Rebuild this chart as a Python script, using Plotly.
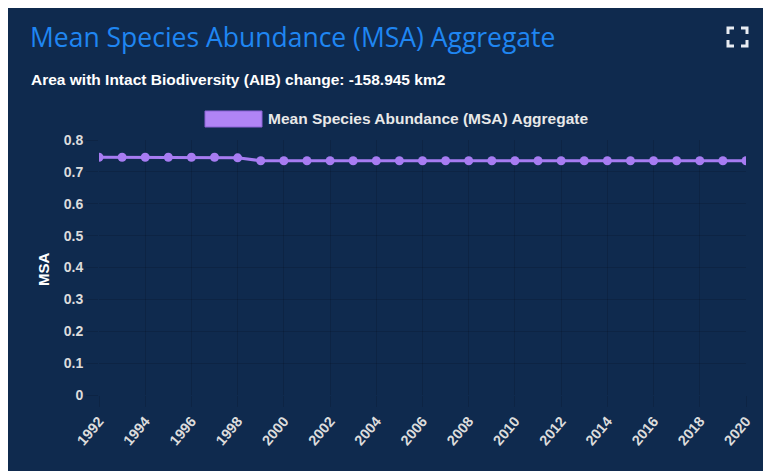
import plotly.graph_objects as go

YEARS = list(range(1992, 2021))
MSA_VALUES = [
    0.746, 0.746, 0.746, 0.746, 0.746, 0.746, 0.744,
    0.735, 0.735, 0.735, 0.735, 0.735, 0.735, 0.735,
    0.735, 0.735, 0.735, 0.735, 0.735, 0.735, 0.735,
    0.735, 0.735, 0.735, 0.735, 0.735, 0.735, 0.735, 0.735,
]
Y_TICKS = [0, 0.1, 0.2, 0.3, 0.4, 0.5, 0.6, 0.7, 0.8]
X_TICKS = list(range(1992, 2021, 2))

TITLE = "Mean Species Abundance (MSA) Aggregate"
SUBTITLE = "Area with Intact Biodiversity (AIB) change: -158.945 km2"
SERIES_NAME = "Mean Species Abundance (MSA) Aggregate"

# page body adds an 8px margin, so the figure sits at (8, 8) in the window
OFF = 8
W, H = 771 - OFF, 471 - OFF
L, R, T, B = 99 - OFF, 25, 140 - OFF, 76
BG = "#0f2a4e"
PURPLE = "#a77cf2"
FONT = "Liberation Sans, Arial, sans-serif"


def px(x):
    # window pixel -> paper coordinate
    return (x - OFF - L) / (W - L - R)


def py(y):
    return (H - B - (y - OFF)) / (H - T - B)


fig = go.Figure()
fig.add_trace(
    go.Scatter(
        x=YEARS,
        y=MSA_VALUES,
        mode="lines+markers",
        name=SERIES_NAME,
        line={"color": PURPLE, "width": 3},
        marker={"color": PURPLE, "size": 9},
        showlegend=False,
    )
)

shapes = [
    # legend swatch
    dict(type="rect", xref="paper", yref="paper", x0=px(205), x1=px(262), y0=py(111), y1=py(127),
         fillcolor="#b084f5", line={"color": "#8c62d6", "width": 1}),
]

# expand icon: four corner brackets
icon_color = "#e8ecf2"
x0, x1, y0, y1, arm = 728, 747, 28, 46, 6
for cx, cy, dx, dy in [(x0, y0, 1, 1), (x1, y0, -1, 1), (x0, y1, 1, -1), (x1, y1, -1, -1)]:
    path = "M {} {} L {} {} L {} {}".format(
        px(cx + dx * arm), py(cy), px(cx), py(cy), px(cx), py(cy + dy * arm)
    )
    shapes.append(dict(type="path", xref="paper", yref="paper", path=path,
                       line={"color": icon_color, "width": 3}))

annotations = [
    dict(text=TITLE, xref="paper", yref="paper", x=px(28), y=py(37), xanchor="left", yanchor="middle",
         showarrow=False, font={"family": "Open Sans, sans-serif", "size": 26.5, "color": "#1f86f2"}),
    dict(text="<b>" + SUBTITLE + "</b>", xref="paper", yref="paper", x=px(29), y=py(80), xanchor="left",
         yanchor="middle", showarrow=False, font={"family": FONT, "size": 15.5, "color": "#ffffff"}),
    dict(text="<b>" + SERIES_NAME + "</b>", xref="paper", yref="paper", x=px(266), y=py(118), xanchor="left",
         yanchor="middle", showarrow=False, font={"family": FONT, "size": 15.5, "color": "#e8e8e8"}),
    dict(text="<b>MSA</b>", xref="paper", yref="paper", x=px(43), y=py(269), xanchor="center",
         yanchor="middle", textangle=-90, showarrow=False,
         font={"family": FONT, "size": 15, "color": "#ffffff"}),
]

fig.update_layout(
    width=W,
    height=H,
    paper_bgcolor=BG,
    plot_bgcolor=BG,
    margin={"l": L, "r": R, "t": T, "b": B, "pad": 0},
    font={"family": FONT, "color": "#dcdcdc", "size": 14},
    shapes=shapes,
    annotations=annotations,
    showlegend=False,
)
fig.update_xaxes(
    range=[1992, 2020],
    tickvals=X_TICKS,
    ticktext=["<b>{}</b>".format(v) for v in X_TICKS],
    tickangle=-50,
    tickfont={"size": 14.5, "color": "#dcdcdc"},
    showgrid=True,
    gridcolor="rgba(0,0,0,0.12)",
    zeroline=False,
    showline=False,
    ticks="outside",
    ticklen=11,
    tickcolor="rgba(0,0,0,0.12)",
)
fig.update_yaxes(
    range=[0, 0.8],
    tickvals=Y_TICKS,
    ticktext=["<b>{:g}</b>".format(v) for v in Y_TICKS],
    tickfont={"size": 14, "color": "#dcdcdc"},
    showgrid=True,
    gridcolor="rgba(0,0,0,0.12)",
    zeroline=False,
    ticks="outside",
    ticklen=12,
    tickcolor="rgba(0,0,0,0.12)",
)

fig.write_html("out.html")
